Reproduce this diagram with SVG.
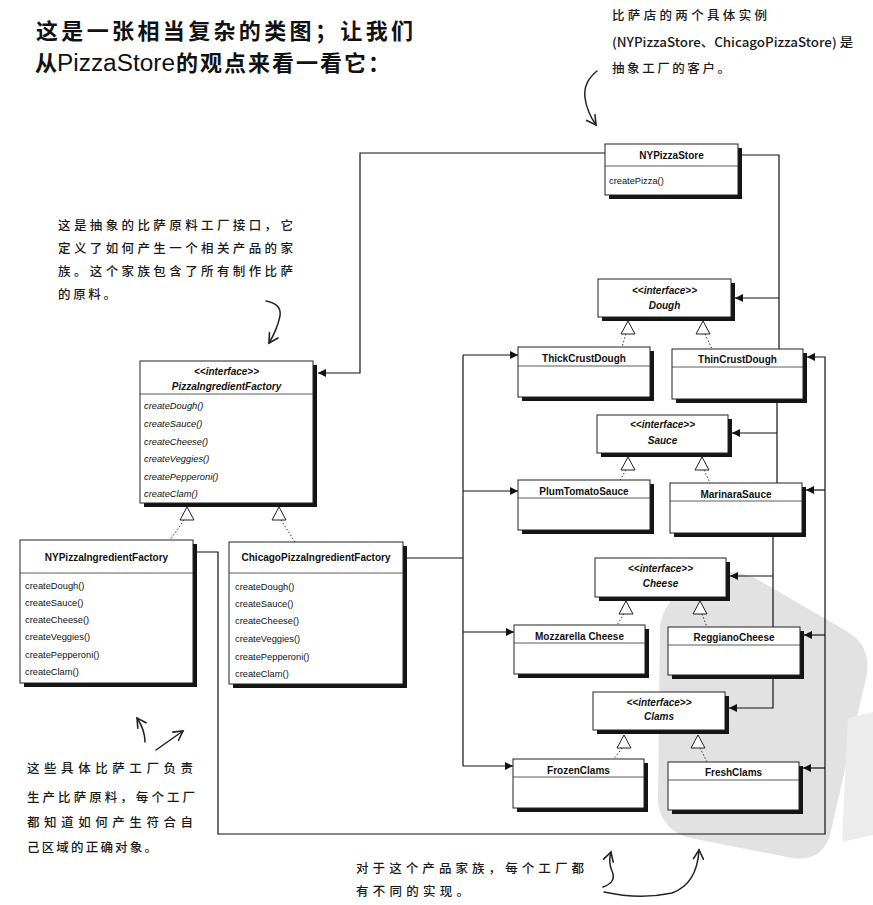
<svg xmlns="http://www.w3.org/2000/svg" width="873" height="905" viewBox="0 0 873 905">
<defs>
<marker id="arr" viewBox="0 0 10 10" refX="10" refY="5" markerWidth="9" markerHeight="8" markerUnits="userSpaceOnUse" orient="auto">
<path d="M0,0 L10,5 L0,10 Z" fill="#111"/>
</marker>
<marker id="hand" viewBox="0 0 12 12" refX="10" refY="6" markerWidth="12" markerHeight="12" markerUnits="userSpaceOnUse" orient="auto">
<path d="M1,1 L10,6 L1,11" fill="none" stroke="#222" stroke-width="1.6" stroke-linecap="round"/>
</marker>
</defs>
<style>
.box{fill:#fff;stroke:#222;stroke-width:1}
.sh{fill:#151515}
.sep{stroke:#333;stroke-width:0.8}
.t{font-family:"Liberation Sans",Arial,sans-serif;font-size:10px;font-weight:bold;fill:#111;text-anchor:middle}
.ti{font-style:italic}
.m{font-family:"Liberation Sans",Arial,sans-serif;font-size:9.3px;fill:#111}
.ln{fill:none;stroke:#111;stroke-width:1.2}
.dot{fill:none;stroke:#333;stroke-width:1;stroke-dasharray:1.5 2}
.tri{fill:#fff;stroke:#222;stroke-width:1}
.note{font-family:"Noto Sans CJK SC",sans-serif;font-size:12.5px;font-weight:500;fill:#1a1a1a}
.title{font-family:"Noto Sans CJK SC",sans-serif;font-size:22px;font-weight:bold;fill:#111}
.tlat{font-family:"Liberation Sans",Arial,sans-serif;font-size:23px;fill:#111}
.hl{fill:none;stroke:#222;stroke-width:1.5;stroke-linecap:round}
</style>
<rect width="873" height="905" fill="#fff"/>
<g id="watermark">
<path d="M700,578 Q725,565 755,578 L848,632 Q873,648 866,678 L830,835 Q822,862 792,858 L690,838 Q660,830 658,800 L660,628 Q662,598 700,578 Z" fill="#e2e2e2"/>
<path d="M848,718 L873,712 L873,835 L842,842 Z" fill="#ececec"/>
</g>
<g id="title">
<text class="title" x="36" y="39" textLength="377" lengthAdjust="spacing">这是一张相当复杂的类图；让我们</text>
<text class="title" x="35" y="71">从</text>
<text class="tlat" x="57" y="71" textLength="118" lengthAdjust="spacingAndGlyphs">PizzaStore</text>
<text class="title" x="176" y="71" textLength="214" lengthAdjust="spacing">的观点来看一看它：</text>
</g>
<g id="note-clients">
<text class="note" x="612" y="20" textLength="155" lengthAdjust="spacing">比萨店的两个具体实例</text>
<text class="note" x="612" y="47" textLength="241" lengthAdjust="spacingAndGlyphs">(NYPizzaStore、ChicagoPizzaStore) 是</text>
<text class="note" x="612" y="73" textLength="118" lengthAdjust="spacing">抽象工厂的客户。</text>
<path class="hl" d="M597,71 Q583,82 585,98 Q587,112 596,125" marker-end="url(#hand)"/>
</g>
<g id="note-interface">
<text class="note" x="58" y="230" textLength="235" lengthAdjust="spacing">这是抽象的比萨原料工厂接口，它</text>
<text class="note" x="58" y="253" textLength="235" lengthAdjust="spacing">定义了如何产生一个相关产品的家</text>
<text class="note" x="58" y="276" textLength="235" lengthAdjust="spacing">族。这个家族包含了所有制作比萨</text>
<text class="note" x="58" y="299" textLength="58" lengthAdjust="spacing">的原料。</text>
<path class="hl" d="M266,301 Q282,304 280,316 Q277,330 269,343" marker-end="url(#hand)"/>
</g>
<g id="note-factories">
<text class="note" x="27" y="773" textLength="166" lengthAdjust="spacing">这些具体比萨工厂负责</text>
<text class="note" x="27" y="802" textLength="168" lengthAdjust="spacing">生产比萨原料，每个工厂</text>
<text class="note" x="27" y="827" textLength="166" lengthAdjust="spacing">都知道如何产生符合自</text>
<text class="note" x="27" y="852" textLength="130" lengthAdjust="spacing">己区域的正确对象。</text>
<path class="hl" d="M145,742 Q145,730 137,718" marker-end="url(#hand)"/>
<path class="hl" d="M156,750 L183,731" marker-end="url(#hand)"/>
</g>
<g id="note-products">
<text class="note" x="356" y="873" textLength="228" lengthAdjust="spacing">对于这个产品家族，每个工厂都</text>
<text class="note" x="356" y="896" textLength="113" lengthAdjust="spacing">有不同的实现。</text>
<path class="hl" d="M603,887 Q617,882 612,871 Q608,862 611,852" marker-end="url(#hand)"/>
<path class="hl" d="M604,892 Q640,900 672,893 Q697,884 699,850" marker-end="url(#hand)"/>
</g>
<g id="connectors">
<polyline class="ln" points="605,153 360,153 360,373 318,373" marker-end="url(#arr)"/>
<polyline class="ln" points="738,155 779,155 779,349"/>
<polyline class="ln" points="779,298 735,298" marker-end="url(#arr)"/>
<polyline class="ln" points="777,402 777,483"/>
<polyline class="ln" points="777,433 732,433" marker-end="url(#arr)"/>
<polyline class="ln" points="773,536 773,627"/>
<polyline class="ln" points="773,576 730,576" marker-end="url(#arr)"/>
<polyline class="ln" points="773,678 773,708 729,708" marker-end="url(#arr)"/>
<polyline class="ln" points="197,552 218,552 218,834 825,834 825,357 807,357" marker-end="url(#arr)"/>
<polyline class="ln" points="825,490 806,490" marker-end="url(#arr)"/>
<polyline class="ln" points="825,635 804,635" marker-end="url(#arr)"/>
<polyline class="ln" points="825,768 803,768" marker-end="url(#arr)"/>
<polyline class="ln" points="407,558 463,558"/>
<polyline class="ln" points="463,355 463,766"/>
<polyline class="ln" points="463,355 518,355" marker-end="url(#arr)"/>
<polyline class="ln" points="463,491 518,491" marker-end="url(#arr)"/>
<polyline class="ln" points="463,632 514,632" marker-end="url(#arr)"/>
<polyline class="ln" points="463,766 513,766" marker-end="url(#arr)"/>
<line class="dot" x1="184" y1="520" x2="170" y2="540"/>
<polygon class="tri" points="187,507 180,520 194,520"/>
<line class="dot" x1="281" y1="520" x2="295" y2="542"/>
<polygon class="tri" points="279,507 272,520 286,520"/>
<line class="dot" x1="626" y1="334" x2="622" y2="347"/>
<polygon class="tri" points="628,321 621,334 635,334"/>
<line class="dot" x1="705" y1="334" x2="712" y2="349"/>
<polygon class="tri" points="703,321 696,334 710,334"/>
<line class="dot" x1="626" y1="470" x2="620" y2="480"/>
<polygon class="tri" points="628,457 621,470 635,470"/>
<line class="dot" x1="704" y1="470" x2="710" y2="483"/>
<polygon class="tri" points="702,457 695,470 709,470"/>
<line class="dot" x1="624" y1="614" x2="617" y2="625"/>
<polygon class="tri" points="626,601 619,614 633,614"/>
<line class="dot" x1="702" y1="614" x2="707" y2="627"/>
<polygon class="tri" points="700,601 693,614 707,614"/>
<line class="dot" x1="622" y1="748" x2="614" y2="759"/>
<polygon class="tri" points="624,735 617,748 631,748"/>
<line class="dot" x1="700" y1="748" x2="707" y2="762"/>
<polygon class="tri" points="698,735 691,748 705,748"/>
</g>
<g id="NYPizzaStore">
<rect class="sh" x="609" y="148" width="133" height="51"/>
<rect class="box" x="605" y="144" width="133" height="51"/>
<line class="sep" x1="605" y1="166" x2="738" y2="166"/>
<text class="t" x="671.5" y="159">NYPizzaStore</text>
<text class="m" x="609" y="184">createPizza()</text>
</g>
<g id="PizzaIngredientFactory">
<rect class="sh" x="144" y="365" width="173" height="142"/>
<rect class="box" x="140" y="361" width="173" height="142"/>
<line class="sep" x1="140" y1="394" x2="313" y2="394"/>
<text class="t ti" x="226.5" y="375">&lt;&lt;interface&gt;&gt;</text>
<text class="t ti" x="226.5" y="390">PizzaIngredientFactory</text>
<text class="m ti" x="144" y="409">createDough()</text>
<text class="m ti" x="144" y="427">createSauce()</text>
<text class="m ti" x="144" y="445">createCheese()</text>
<text class="m ti" x="144" y="462">createVeggies()</text>
<text class="m ti" x="144" y="480">createPepperoni()</text>
<text class="m ti" x="144" y="497">createClam()</text>
</g>
<g id="NYPizzaIngredientFactory">
<rect class="sh" x="24" y="544" width="173" height="143"/>
<rect class="box" x="20" y="540" width="173" height="143"/>
<line class="sep" x1="20" y1="573" x2="193" y2="573"/>
<text class="t" x="106.5" y="561">NYPizzaIngredientFactory</text>
<text class="m" x="25" y="589">createDough()</text>
<text class="m" x="25" y="606">createSauce()</text>
<text class="m" x="25" y="623">createCheese()</text>
<text class="m" x="25" y="640">createVeggies()</text>
<text class="m" x="25" y="658">createPepperoni()</text>
<text class="m" x="25" y="675">createClam()</text>
</g>
<g id="ChicagoPizzaIngredientFactory">
<rect class="sh" x="233" y="546" width="174" height="142"/>
<rect class="box" x="229" y="542" width="174" height="142"/>
<line class="sep" x1="229" y1="573" x2="403" y2="573"/>
<text class="t" x="316" y="561">ChicagoPizzaIngredientFactory</text>
<text class="m" x="235" y="590">createDough()</text>
<text class="m" x="235" y="607">createSauce()</text>
<text class="m" x="235" y="624">createCheese()</text>
<text class="m" x="235" y="642">createVeggies()</text>
<text class="m" x="235" y="660">createPepperoni()</text>
<text class="m" x="235" y="677">createClam()</text>
</g>
<g id="Dough">
<rect class="sh" x="602" y="283" width="133" height="38"/>
<rect class="box" x="598" y="279" width="133" height="38"/>
<text class="t ti" x="664.5" y="294">&lt;&lt;interface&gt;&gt;</text>
<text class="t ti" x="664.5" y="309">Dough</text>
</g>
<g id="ThickCrustDough">
<rect class="sh" x="522" y="351" width="132" height="50"/>
<rect class="box" x="518" y="347" width="132" height="50"/>
<line class="sep" x1="518" y1="366" x2="650" y2="366"/>
<text class="t" x="584" y="362">ThickCrustDough</text>
</g>
<g id="ThinCrustDough">
<rect class="sh" x="676" y="353" width="131" height="50"/>
<rect class="box" x="672" y="349" width="131" height="50"/>
<line class="sep" x1="672" y1="367" x2="803" y2="367"/>
<text class="t" x="737.5" y="363">ThinCrustDough</text>
</g>
<g id="Sauce">
<rect class="sh" x="601" y="419" width="131" height="38"/>
<rect class="box" x="597" y="415" width="131" height="38"/>
<text class="t ti" x="662.5" y="428">&lt;&lt;interface&gt;&gt;</text>
<text class="t ti" x="662.5" y="444">Sauce</text>
</g>
<g id="PlumTomatoSauce">
<rect class="sh" x="522" y="484" width="132" height="50"/>
<rect class="box" x="518" y="480" width="132" height="50"/>
<line class="sep" x1="518" y1="498" x2="650" y2="498"/>
<text class="t" x="584" y="495">PlumTomatoSauce</text>
</g>
<g id="MarinaraSauce">
<rect class="sh" x="674" y="487" width="132" height="50"/>
<rect class="box" x="670" y="483" width="132" height="50"/>
<line class="sep" x1="670" y1="501" x2="802" y2="501"/>
<text class="t" x="736" y="498">MarinaraSauce</text>
</g>
<g id="Cheese">
<rect class="sh" x="599" y="562" width="131" height="39"/>
<rect class="box" x="595" y="558" width="131" height="39"/>
<text class="t ti" x="660.5" y="572">&lt;&lt;interface&gt;&gt;</text>
<text class="t ti" x="660.5" y="587">Cheese</text>
</g>
<g id="MozzarellaCheese">
<rect class="sh" x="518" y="629" width="131" height="49"/>
<rect class="box" x="514" y="625" width="131" height="49"/>
<line class="sep" x1="514" y1="643" x2="645" y2="643"/>
<text class="t" x="579.5" y="640">Mozzarella Cheese</text>
</g>
<g id="ReggianoCheese">
<rect class="sh" x="672" y="631" width="132" height="48"/>
<rect class="box" x="668" y="627" width="132" height="48"/>
<line class="sep" x1="668" y1="645" x2="800" y2="645"/>
<text class="t" x="734" y="641">ReggianoCheese</text>
</g>
<g id="Clams">
<rect class="sh" x="597" y="696" width="132" height="38"/>
<rect class="box" x="593" y="692" width="132" height="38"/>
<text class="t ti" x="659" y="706">&lt;&lt;interface&gt;&gt;</text>
<text class="t ti" x="659" y="720">Clams</text>
</g>
<g id="FrozenClams">
<rect class="sh" x="517" y="763" width="131" height="49"/>
<rect class="box" x="513" y="759" width="131" height="49"/>
<line class="sep" x1="513" y1="777" x2="644" y2="777"/>
<text class="t" x="578.5" y="774">FrozenClams</text>
</g>
<g id="FreshClams">
<rect class="sh" x="672" y="766" width="131" height="48"/>
<rect class="box" x="668" y="762" width="131" height="48"/>
<line class="sep" x1="668" y1="780" x2="799" y2="780"/>
<text class="t" x="733.5" y="776">FreshClams</text>
</g>
</svg>
